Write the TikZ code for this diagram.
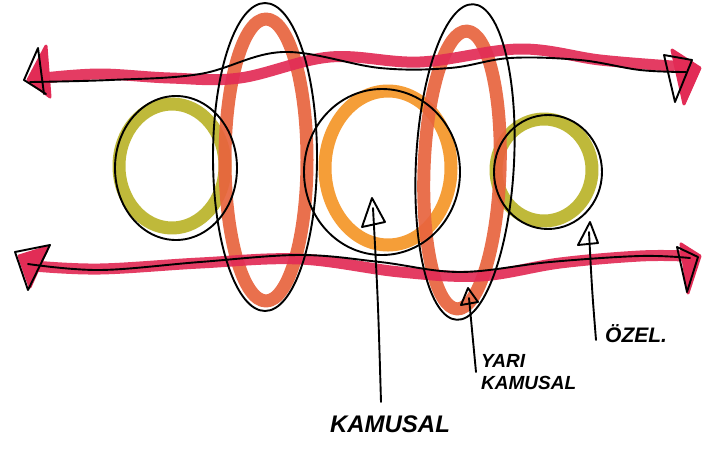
\documentclass[tikz,border=0pt]{standalone}
\usepackage{fontspec}
\setmainfont{Liberation Sans}
\definecolor{bandred}{RGB}{226,44,86}
\definecolor{salmon}{RGB}{232,100,62}
\definecolor{orangec}{RGB}{245,150,40}
\definecolor{olive}{RGB}{186,180,42}
\begin{document}
\begin{tikzpicture}[x=1pt,y=-1pt,
  marker/.style={line width=13pt, line cap=round, line join=round, opacity=0.92},
  ink/.style={line width=1.9pt, black, line cap=round, line join=round},
  headred/.style={fill=bandred, draw=bandred, line width=3pt, line join=round},
  lbl/.style={font=\bfseries\itshape\fontsize{24}{24}\selectfont, inner sep=0pt},
  lbls/.style={font=\bfseries\itshape\fontsize{19}{19}\selectfont, inner sep=0pt}]
\useasboundingbox[fill=white] (0,0) rectangle (702,448);

% ---- coloured marker shapes ----
\draw[marker, olive] (172,166) ellipse [x radius=53, y radius=62];
\draw[marker, olive] (544,170) ellipse [x radius=48, y radius=51];
\draw[marker, orangec] (388,168) ellipse [x radius=63, y radius=77];
\draw[marker, salmon] (266,160) ellipse [x radius=41, y radius=141];
\draw[marker, salmon, rotate around={-2:(462,170)}] (462,170) ellipse [x radius=38, y radius=139];

% red bands
\draw[marker, bandred, line width=11pt] plot[smooth, tension=0.6] coordinates
  {(44,78) (100,74) (170,78) (240,78) (330,57) (420,62) (520,49) (600,60) (672,66)};
\draw[marker, bandred, line width=11pt] plot[smooth, tension=0.6] coordinates
  {(34,266) (100,269) (200,263) (300,259) (400,272) (480,276) (560,263) (640,256) (684,256)};

% red arrowheads
\coordinate (tlA) at (28,80); \coordinate (tlB) at (46,46); \coordinate (tlC) at (50,97);
\coordinate (trA) at (700,68); \coordinate (trB) at (672,50); \coordinate (trC) at (684,104);
\coordinate (blA) at (19,256); \coordinate (blB) at (48,247); \coordinate (blC) at (30,287);
\coordinate (brA) at (700,256); \coordinate (brB) at (681,244); \coordinate (brC) at (688,293);
\draw[headred] (tlA) -- (tlB) -- (tlC) -- cycle;
\draw[headred] (trA) -- (trB) -- (trC) -- cycle;
\draw[headred] (blA) -- (blB) -- (blC) -- cycle;
\draw[headred] (brA) -- (brB) -- (brC) -- cycle;

% ---- black ink ----
\draw[ink] (176,168) ellipse [x radius=61, y radius=72];
\draw[ink] (548,172) ellipse [x radius=54, y radius=57];
\draw[ink] (382,172) ellipse [x radius=78, y radius=83];
\draw[ink] (265,157) ellipse [x radius=52, y radius=154];
\draw[ink, rotate around={-3:(465,162)}] (465,162) ellipse [x radius=49, y radius=158];

\draw[ink] plot[smooth, tension=0.6] coordinates
  {(30,82) (110,80) (200,74) (283,52) (380,68) (450,68) (510,58) (580,60) (640,70) (686,72)};
\draw[ink] plot[smooth, tension=0.6] coordinates
  {(28,264) (100,270) (200,262) (300,255) (380,262) (460,272) (550,262) (640,256) (690,258)};

% black arrowheads
\draw[ink] (24,80) -- (38,48) -- (44,94);
\draw[ink] (24,80) -- (46,94);
\draw[ink] (664,55) -- (692,60) -- (675,102) -- cycle;
\draw[ink] (15,252) -- (50,245) -- (28,290) -- cycle;
\draw[ink] (677,247) -- (698,257) -- (687,292) -- cycle;

% ---- pointer arrows and labels ----
\node[lbl] (kamusal) at (390,424) {KAMUSAL};
\node[lbls, align=left, anchor=north west] (yari) at (481,354) {YARI\\[3pt]KAMUSAL};
\node[lbl, font=\bfseries\itshape\fontsize{21}{21}\selectfont, anchor=west] (ozel) at (605,334) {ÖZEL.};

\coordinate (kTip) at (372,198);
\coordinate (yTip) at (468,288);
\coordinate (oTip) at (590,222);
\coordinate (kEnd) at (381,402);
\coordinate (yEnd) at (476,372);
\coordinate (oEnd) at (596,340);

\draw[ink] (kEnd) .. controls (378,300) .. (373,208);
\draw[ink] (kTip) -- (362,227) -- (385,222) -- cycle;

\draw[ink] (yEnd) .. controls (472,330) .. (469,298);
\draw[ink] (yTip) -- (461,305) -- (478,302) -- cycle;

\draw[ink] (oEnd) .. controls (592,290) .. (589,232);
\draw[ink] (oTip) -- (578,245) -- (598,243) -- cycle;
\end{tikzpicture}
\end{document}
